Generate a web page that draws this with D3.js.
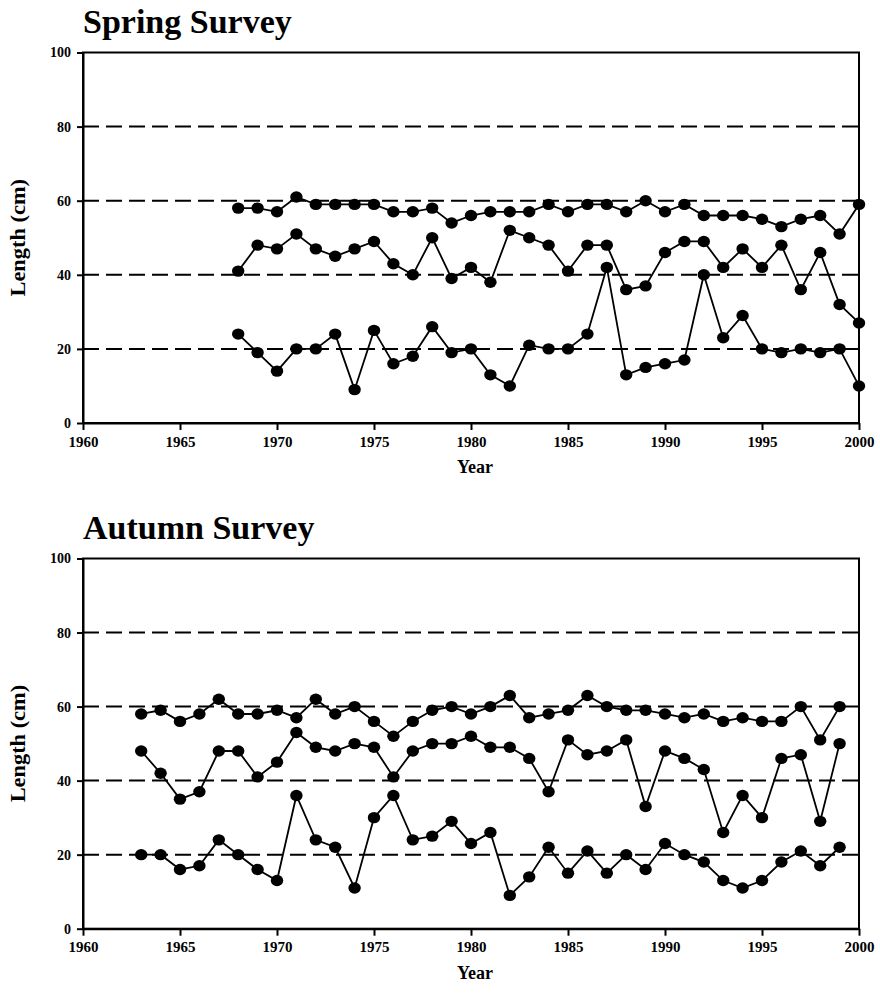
<!DOCTYPE html>
<html>
<head>
<meta charset="utf-8">
<script src="https://cdn.jsdelivr.net/npm/d3@7"></script>
<style>
  body { margin: 0; background: #fff; }
  svg text { font-family: "Liberation Serif", "Times New Roman", serif; font-weight: bold; fill: #000; }
</style>
</head>
<body>
<div id="chart"></div>
<script>
// Spring survey (1968-2000)
const springYears = [1968, 1969, 1970, 1971, 1972, 1973, 1974, 1975, 1976, 1977, 1978, 1979, 1980,
  1981, 1982, 1983, 1984, 1985, 1986, 1987, 1988, 1989, 1990, 1991, 1992, 1993, 1994, 1995, 1996,
  1997, 1998, 1999, 2000];
const springUpper = [58, 58, 57, 61, 59, 59, 59, 59, 57, 57, 58, 54, 56, 57, 57, 57, 59, 57, 59, 59,
  57, 60, 57, 59, 56, 56, 56, 55, 53, 55, 56, 51, 59];
const springMiddle = [41, 48, 47, 51, 47, 45, 47, 49, 43, 40, 50, 39, 42, 38, 52, 50, 48, 41, 48, 48,
  36, 37, 46, 49, 49, 42, 47, 42, 48, 36, 46, 32, 27];
const springLower = [24, 19, 14, 20, 20, 24, 9, 25, 16, 18, 26, 19, 20, 13, 10, 21, 20, 20, 24, 42,
  13, 15, 16, 17, 40, 23, 29, 20, 19, 20, 19, 20, 10];

// Autumn survey (1963-1999)
const autumnYears = [1963, 1964, 1965, 1966, 1967, 1968, 1969, 1970, 1971, 1972, 1973, 1974, 1975,
  1976, 1977, 1978, 1979, 1980, 1981, 1982, 1983, 1984, 1985, 1986, 1987, 1988, 1989, 1990, 1991,
  1992, 1993, 1994, 1995, 1996, 1997, 1998, 1999];
const autumnUpper = [58, 59, 56, 58, 62, 58, 58, 59, 57, 62, 58, 60, 56, 52, 56, 59, 60, 58, 60, 63,
  57, 58, 59, 63, 60, 59, 59, 58, 57, 58, 56, 57, 56, 56, 60, 51, 60];
const autumnMiddle = [48, 42, 35, 37, 48, 48, 41, 45, 53, 49, 48, 50, 49, 41, 48, 50, 50, 52, 49, 49,
  46, 37, 51, 47, 48, 51, 33, 48, 46, 43, 26, 36, 30, 46, 47, 29, 50];
const autumnLower = [20, 20, 16, 17, 24, 20, 16, 13, 36, 24, 22, 11, 30, 36, 24, 25, 29, 23, 26, 9,
  14, 22, 15, 21, 15, 20, 16, 23, 20, 18, 13, 11, 13, 18, 21, 17, 22];

const xTicks = [1960, 1965, 1970, 1975, 1980, 1985, 1990, 1995, 2000];
const yTicks = [0, 20, 40, 60, 80, 100];
const gridLevels = [20, 40, 60, 80];

const width = 880, height = 995;
const svg = d3.select("#chart").append("svg")
  .attr("width", width)
  .attr("height", height);

const x = d3.scaleLinear().domain([1960, 2000]).range([83, 859]);

function drawPanel(title, years, seriesList, top, bottom) {
  const y = d3.scaleLinear().domain([0, 100]).range([bottom, top]);
  const g = svg.append("g");

  // dashed reference lines
  g.selectAll(".grid")
    .data(gridLevels)
    .join("line")
    .attr("x1", x(1960)).attr("x2", x(2000))
    .attr("y1", d => y(d)).attr("y2", d => y(d))
    .attr("stroke", "#000")
    .attr("stroke-width", 2)
    .attr("stroke-dasharray", "16,7");

  // frame
  g.append("rect")
    .attr("x", x(1960)).attr("y", y(100))
    .attr("width", x(2000) - x(1960))
    .attr("height", y(0) - y(100))
    .attr("fill", "none")
    .attr("stroke", "#000")
    .attr("stroke-width", 2);

  // axes
  const xAxis = g.append("g")
    .attr("transform", `translate(0,${y(0)})`)
    .call(d3.axisBottom(x).tickValues(xTicks).tickFormat(d3.format("d")).tickSize(7).tickSizeOuter(0).tickPadding(6));
  const yAxis = g.append("g")
    .attr("transform", `translate(${x(1960)},0)`)
    .call(d3.axisLeft(y).tickValues(yTicks).tickSize(6).tickSizeOuter(0).tickPadding(6));
  [xAxis, yAxis].forEach(a => {
    a.select(".domain").attr("stroke-width", 2);
    a.selectAll(".tick line").attr("stroke-width", 2);
    a.attr("font-family", null).attr("font-size", null);
  });
  xAxis.selectAll("text").style("font-size", "15px");
  yAxis.selectAll("text").style("font-size", "14px");

  // series
  const line = d3.line()
    .x(d => x(d[0]))
    .y(d => y(d[1]));
  seriesList.forEach(values => {
    const pts = years.map((yr, i) => [yr, values[i]]);
    g.append("path")
      .datum(pts)
      .attr("fill", "none")
      .attr("stroke", "#000")
      .attr("stroke-width", 1.8)
      .attr("d", line);
    g.selectAll(null)
      .data(pts)
      .join("ellipse")
      .attr("cx", d => x(d[0]))
      .attr("cy", d => y(d[1]))
      .attr("rx", 6.2)
      .attr("ry", 5.7)
      .attr("fill", "#000");
  });

  // titles and labels
  svg.append("text")
    .attr("x", x(1960))
    .attr("y", top - 20)
    .style("font-size", "34px")
    .text(title);
  svg.append("text")
    .attr("transform", `translate(25,${(top + bottom) / 2}) rotate(-90) scale(1.12,1)`)
    .attr("text-anchor", "middle")
    .style("font-size", "20px")
    .text("Length (cm)");
  svg.append("text")
    .attr("x", (x(1960) + x(2000)) / 2 + 4)
    .attr("y", bottom + 50)
    .attr("text-anchor", "middle")
    .style("font-size", "18px")
    .text("Year");
}

drawPanel("Spring Survey", springYears, [springUpper, springMiddle, springLower], 52.5, 423);
drawPanel("Autumn Survey", autumnYears, [autumnUpper, autumnMiddle, autumnLower], 558.5, 928.7);
</script>
</body>
</html>
